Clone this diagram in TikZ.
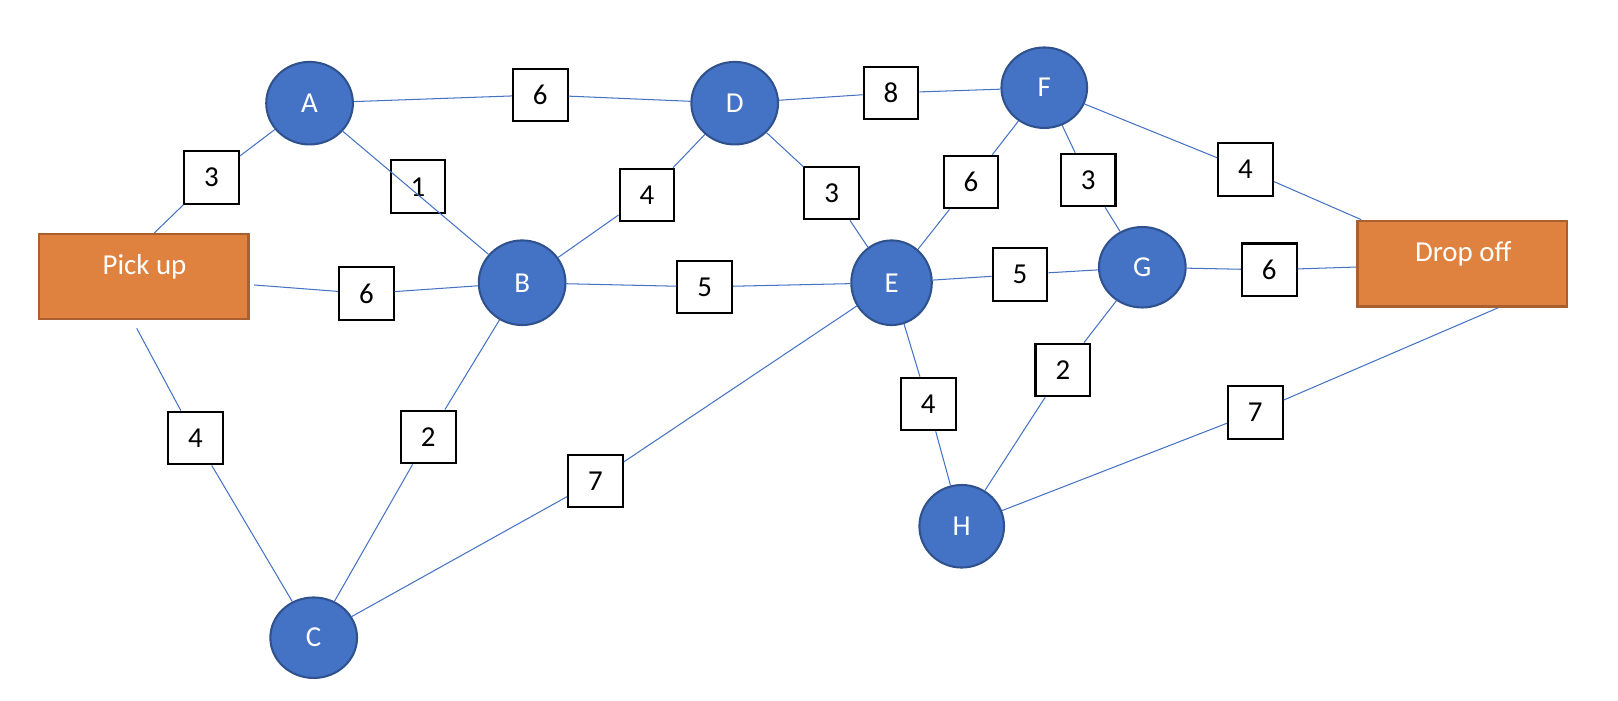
\documentclass[tikz,border=0pt]{standalone}
\usepackage{fontspec}
\setmainfont{Carlito}
\usetikzlibrary{shapes.geometric}
\definecolor{nblue}{HTML}{4472C4}
\definecolor{nedge}{HTML}{2F528F}
\definecolor{norange}{HTML}{E0823F}
\definecolor{nbrown}{HTML}{A95F30}
\begin{document}
\begin{tikzpicture}[x=0.5pt,y=-0.5pt,
  vtx/.style={ellipse, fill=nblue, draw=nedge, line width=1pt, text=white,
    font=\fontsize{14}{16}\selectfont, inner sep=0pt},
  wbox/.style={rectangle, draw=black, line width=1pt, fill=white,
    minimum width=26.5pt, minimum height=25.5pt, inner sep=0pt,
    font=\fontsize{14}{16}\selectfont},
  endbox/.style={rectangle, fill=norange, draw=nbrown, line width=1.2pt,
    minimum width=101.5pt, minimum height=41pt, inner sep=0pt},
  lbl/.style={text=white, font=\fontsize{14}{16}\selectfont, inner sep=0pt},
  link/.style={draw=nblue, line width=0.5pt}
]
\useasboundingbox (0,0) rectangle (1568,678.4);

% vertices
\node[vtx, minimum width=42pt, minimum height=40pt] (A) at (300,100) {A};
\node[vtx, minimum width=42pt, minimum height=40pt] (D) at (712,100) {D};
\node[vtx, minimum width=41.5pt, minimum height=39pt] (F) at (1012,85) {F};
\node[vtx, minimum width=42pt, minimum height=41pt] (B) at (506,274) {B};
\node[vtx, minimum width=39pt, minimum height=41pt] (E) at (864,274) {E};
\node[vtx, minimum width=42pt, minimum height=39pt] (G) at (1107,259) {G};
\node[vtx, minimum width=41pt, minimum height=40pt] (H) at (932,510) {H};
\node[vtx, minimum width=42pt, minimum height=39pt] (C) at (304,618) {C};

% end boxes
\node[endbox] (P) at (139.5,268) {};
\node[lbl] (Ptxt) at (140,259) {Pick up};
\node[endbox, minimum height=41.5pt] (Q) at (1417,255.5) {};
\node[lbl] (Qtxt) at (1418,246) {Drop off};

% weights
\node[wbox] (w3a) at (205,172) {3};
\node[wbox] (w1) at (405,181) {1};
\node[wbox] (w6a) at (523.5,92) {6};
\node[wbox] (w8) at (863.5,90) {8};
\node[wbox] (w4a) at (627,189) {4};
\node[wbox] (w3b) at (806,187) {3};
\node[wbox] (w6b) at (941,176.5) {6};
\node[wbox] (w3c) at (1054.5,174.5) {3};
\node[wbox] (w4b) at (1207,164) {4};
\node[wbox] (w6c) at (355,284.5) {6};
\node[wbox] (w5a) at (683,278) {5};
\node[wbox] (w5b) at (988.5,266) {5};
\node[wbox] (w6d) at (1230,261.5) {6};
\node[wbox] (w4c) at (189.5,424.5) {4};
\node[wbox] (w2a) at (415,423.5) {2};
\node[wbox] (w7a) at (577,466) {7};
\node[wbox] (w4d) at (899.5,391.5) {4};
\node[wbox] (w2b) at (1030,358.5) {2};
\node[wbox] (w7b) at (1216.5,399.5) {7};

% connectors
\draw[link] ([xshift=5pt]P.north) -- (w3a);
\draw[link] (w3a) -- (A);
\draw[link] (A) -- (B);
\draw[link] (A) -- (w6a);
\draw[link] (w6a) -- (D);
\draw[link] (D) -- (w8);
\draw[link] (w8) -- (F);
\draw[link] (B) -- (w4a);
\draw[link] (w4a) -- (D);
\draw[link] (D) -- (w3b);
\draw[link] (w3b) -- (E);
\draw[link] (E) -- (w6b);
\draw[link] (w6b) -- (F);
\draw[link] (F) -- (w3c);
\draw[link] (w3c) -- (G);
\draw[link] (F) -- (w4b);
\draw[link] (w4b) -- (Q);
\draw[link, shorten <=2pt] (P) -- (w6c);
\draw[link] (w6c) -- (B);
\draw[link] (B) -- (w5a);
\draw[link] (w5a) -- (E);
\draw[link] (E) -- (w5b);
\draw[link] (w5b) -- (G);
\draw[link] (G) -- (w6d);
\draw[link] (w6d) -- (Q);
\draw[link] ([xshift=-3.5pt,yshift=-4pt]P.south) -- (w4c);
\draw[link] (w4c) -- (C);
\draw[link] (B) -- (w2a);
\draw[link] (w2a) -- (C);
\draw[link] (C) -- (w7a);
\draw[link] (w7a) -- (E);
\draw[link] (E) -- (w4d);
\draw[link] (w4d) -- (H);
\draw[link] (G) -- (w2b);
\draw[link] (w2b) -- (H);
\draw[link] (H) -- (w7b);
\draw[link] (w7b) -- ([xshift=17.5pt]Q.south);
\end{tikzpicture}
\end{document}
